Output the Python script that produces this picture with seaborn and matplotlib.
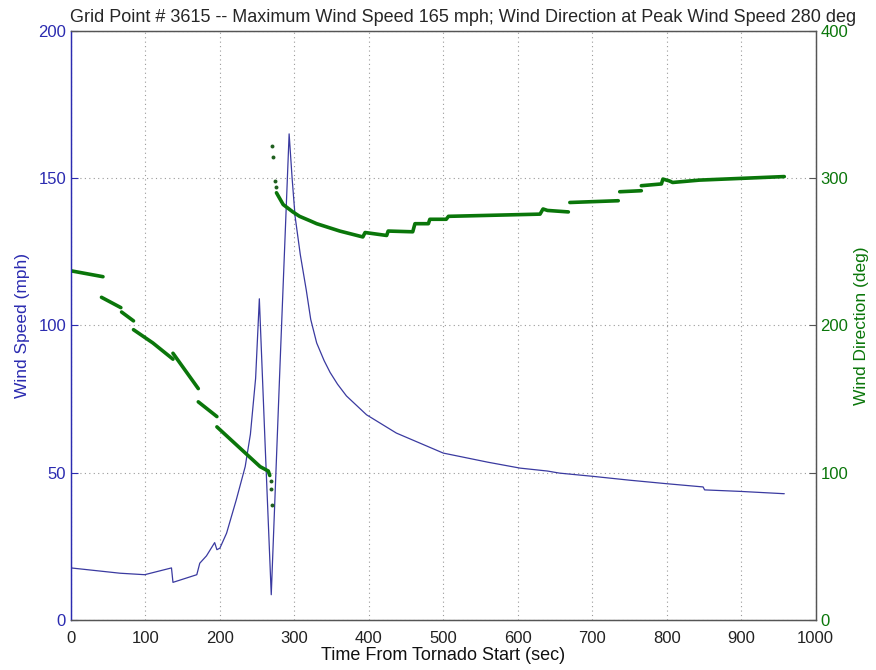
import pandas as pd
import matplotlib
matplotlib.use("Agg")
import matplotlib.pyplot as plt
import seaborn as sns

# wind speed trace (sec, mph)
speed_t = [0, 66, 99, 135, 137, 169, 173, 182, 193, 196, 200, 209, 222, 234, 241, 248, 253,
           261, 269, 281, 293, 297, 301, 308, 316, 322, 330, 340, 348, 358, 370, 397, 437,
           500, 560, 603, 640, 656, 701, 750, 800, 849, 851, 898, 958]
speed_v = [17.6, 15.8, 15.3, 17.6, 12.7, 15.3, 19.2, 21.7, 26.2, 23.8, 24.3, 29.4, 40.7, 52, 63, 82, 109,
           58, 8.5, 88, 165, 150, 137, 124, 112, 102, 94, 88, 84, 80, 76, 69.6, 63.4,
           56.6, 53.5, 51.5, 50.5, 49.8, 48.7, 47.4, 46.2, 45.1, 44.1, 43.6, 42.8]

# wind direction runs (sec, deg); each inner list is one unbroken run of dots
dir_t = [
    [0, 43],
    [41, 67],
    [68, 84],
    [84, 110, 137],
    [137, 171],
    [171, 196],
    [196, 254, 265, 267],
    [276, 285, 298, 307, 321, 330, 361, 392, 395, 424, 426, 459, 462, 480, 482, 504,
     507, 630, 634, 640, 668],
    [670, 735],
    [737, 766],
    [766, 793, 795, 804, 808, 844, 958],
]
dir_v = [
    [237, 233],
    [219, 212],
    [209, 203],
    [197, 188, 177],
    [181, 157],
    [148, 138],
    [131, 104, 101, 98],
    [290, 282, 277, 274, 271, 269, 264, 260, 263, 261, 264, 263.5, 269, 269, 272, 272,
     274, 275.5, 279, 278, 277],
    [283.4, 284.6],
    [290.7, 291.4],
    [294.8, 296, 299.3, 298, 297, 298.6, 301],
]

# stray direction points around the speed minimum
stray_t = [268, 269, 270, 270, 272, 274, 275]
stray_v = [94, 89, 78, 322, 314, 298, 294]

speed = pd.DataFrame({"t": speed_t, "v": speed_v})
direction = pd.DataFrame({
    "t": [t for run in dir_t for t in run],
    "v": [v for run in dir_v for v in run],
    "seg": [i for i, run in enumerate(dir_t) for _ in run],
})

sns.set_style("white")
plt.rcParams["font.family"] = ["Liberation Sans", "DejaVu Sans"]

blue = "#2b2bb0"
green = "#0a760a"

fig, ax = plt.subplots(figsize=(8.76, 6.70), dpi=100)
fig.subplots_adjust(left=0.081, right=0.931, bottom=0.075, top=0.954)

ax2 = ax.twinx()
sns.lineplot(ax=ax, data=speed, x="t", y="v", color="#3a3aa0", linewidth=0.9)
sns.lineplot(ax=ax2, data=direction, x="t", y="v", units="seg", estimator=None,
             color=green, linewidth=2.6)
sns.scatterplot(ax=ax2, x=stray_t, y=stray_v, color="#1f5f1f", s=8, linewidth=0)

ax.set_xlim(0, 1000)
ax.set_ylim(0, 200)
ax2.set_ylim(0, 400)
ax.set_xticks(range(0, 1001, 100))
ax.set_yticks([0, 50, 100, 150, 200])
ax2.set_yticks([0, 100, 200, 300, 400])

ax.grid(True, linestyle=(0, (1, 3)), color="#9a9a9a", linewidth=0.8)
ax.set_axisbelow(True)

ax.tick_params(axis="both", direction="in", length=5, labelsize=12)
ax.tick_params(axis="y", colors=blue, labelcolor=blue)
ax.tick_params(axis="x", colors="#444444", labelcolor="#222222", pad=8)
ax2.tick_params(axis="y", direction="in", length=5, labelsize=12,
                colors="#555555", labelcolor=green)

for a in (ax, ax2):
    for s in a.spines.values():
        s.set_color("#555555")
        s.set_linewidth(0.9)
ax.spines["left"].set_color(blue)
ax2.spines["left"].set_color(blue)

ax.set_xlabel("Time From Tornado Start (sec)", fontsize=13, color="#111111", labelpad=1)
ax.set_ylabel("Wind Speed (mph)", fontsize=12.5, color=blue, labelpad=6)
ax2.set_ylabel("Wind Direction (deg)", fontsize=12.5, color=green)
ax.set_title("Grid Point # 3615 -- Maximum Wind Speed 165 mph; Wind Direction at Peak Wind Speed 280 deg",
             fontsize=13, pad=6, x=0.526)

fig.savefig("out.png", dpi=100)
